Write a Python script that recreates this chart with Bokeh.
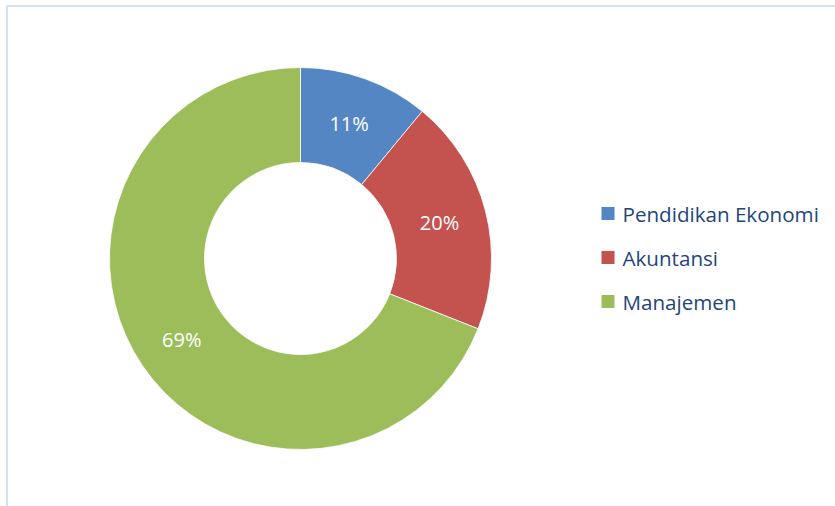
import math
from bokeh.plotting import figure
from bokeh.models import Range1d, ColumnDataSource
from bokeh.core.properties import value
from bokeh.embed import file_html
from bokeh.resources import INLINE

categories = ["Pendidikan Ekonomi", "Akuntansi", "Manajemen"]
shares = [11, 20, 69]
labels = ["11%", "20%", "69%"]
colors = ["#5586c4", "#c4524f", "#9cbd5a"]

W, H = 835, 506
p = figure(width=W, height=H, output_backend="svg", toolbar_location=None,
           x_range=Range1d(0, W), y_range=Range1d(0, H), min_border=0)
p.axis.visible = False
p.grid.visible = False
p.outline_line_color = None
p.background_fill_color = "white"

# chart border (left and top edges visible in window)
p.line(x=[6.5, 6.5, W + 10], y=[-10, H - 5.5, H - 5.5], line_color="#d6e2f0", line_width=2)

cx, cy = 300, H - 258
r_out, r_in = 191, 96
total = sum(shares)
starts, ends, mids = [], [], []
cum = 0
for s in shares:
    a0 = math.pi / 2 - 2 * math.pi * cum / total
    cum += s
    a1 = math.pi / 2 - 2 * math.pi * cum / total
    starts.append(a0)
    ends.append(a1)
    mids.append((a0 + a1) / 2)

src = ColumnDataSource(dict(start=starts, end=ends, color=colors))
p.annular_wedge(x=cx, y=cy, inner_radius=r_in, outer_radius=r_out,
                start_angle="start", end_angle="end", direction="clock",
                fill_color="color", line_color="white", line_width=0.8, source=src)

r_lab = (r_in + r_out) / 2
lx = [cx + r_lab * math.cos(m) for m in mids]
ly = [cy + r_lab * math.sin(m) for m in mids]
p.text(x=lx, y=ly, text=labels, text_color="white", text_font=value("Open Sans"),
       text_font_size="20px", text_align="center", text_baseline="middle")

# legend
leg_x = 607.5
leg_y = [H - 213, H - 257, H - 301]
p.rect(x=[leg_x] * 3, y=leg_y, width=13, height=13, fill_color=colors, line_color=None)
p.text(x=[622] * 3, y=leg_y, text=categories, text_color="#23467a",
       text_font=value("Open Sans"), text_font_size="20.6px", text_align="left",
       text_baseline="middle")

open("out.html", "w").write(file_html(p, INLINE))
